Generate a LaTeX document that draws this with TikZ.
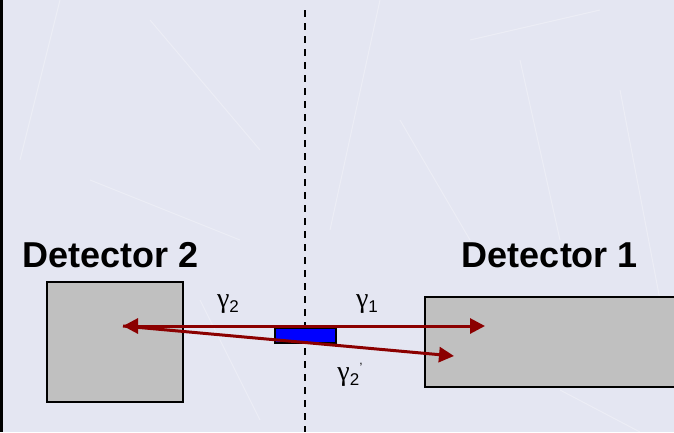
\documentclass[tikz,border=0pt]{standalone}
\usepackage{fontspec}
\setmainfont{Liberation Sans}
\newfontfamily\greekfont{Liberation Serif}
\usetikzlibrary{arrows.meta}
\definecolor{bgpaper}{HTML}{E4E6F2}
\definecolor{boxgray}{HTML}{C0C0C0}
\definecolor{rayred}{HTML}{8B0000}
\newcommand{\gam}{{\greekfont γ}}
\newcommand{\gsub}[1]{\raisebox{-5pt}{\fontsize{17}{20}\selectfont #1}}
\tikzset{
  detbox/.style={draw=black, line width=2pt, fill=boxgray},
  source/.style={draw=black, line width=1.5pt, fill=blue},
  ray/.style={draw=rayred, line width=3pt, -{Triangle[length=15pt,width=15pt]}},
  detlabel/.style={font=\fontsize{36}{40}\selectfont\bfseries, anchor=base},
  glabel/.style={font=\fontsize{28}{30}\selectfont, anchor=base, inner sep=0pt}
}
\begin{document}
\begin{tikzpicture}[x=1pt,y=-1pt]
  % page and backdrop
  \useasboundingbox (0,0) rectangle (674,432);
  \fill[bgpaper] (0,0) rectangle (674,432);
  \fill[black] (0,0) rectangle (2.5,432);
  % a few faint scratches in the paper
  \begin{scope}[white, opacity=0.3, line width=1pt]
    \draw (60,0) -- (20,160);
    \draw (150,20) -- (260,150);
    \draw (380,0) -- (330,230);
    \draw (470,40) -- (600,10);
    \draw (520,60) -- (560,240);
    \draw (620,90) -- (660,300);
    \draw (90,180) -- (240,240);
    \draw (400,120) -- (470,240);
    \draw (200,300) -- (260,420);
    \draw (560,390) -- (640,432);
  \end{scope}
  % symmetry axis
  \coordinate (axtop) at (305,10);
  \coordinate (axbot) at (305,432);
  \draw[line width=1.8pt, dash pattern=on 7pt off 6pt] (axtop) -- (axbot);
  % detectors
  \node[detbox, minimum width=136pt, minimum height=120pt, inner sep=0pt, anchor=north west] (det2) at (46,281) {};
  \node[detbox, minimum width=262pt, minimum height=90pt, inner sep=0pt, anchor=north west] (det1) at (424,296) {};
  \node[detlabel] (lab2) at (111,267) {Detector 2};
  \node[detlabel] (lab1) at (550,267) {Detector 1};
  % source between the detectors
  \node[source, minimum width=61pt, minimum height=15pt, inner sep=0pt, anchor=north west] (src) at (274,327) {};
  % gamma rays
  \coordinate (tipL) at (123,326);
  \coordinate (tipR) at (485,326);
  \coordinate (tipD) at (454,356);
  \coordinate (mid) at (305,326);
  \draw[ray] (mid) -- (tipR);
  \draw[ray] (mid) -- (tipL);
  \draw[ray] (tipL) -- (tipD);
  % labels
  \node[glabel] (g2) at (228,307) {\gam\gsub{2}};
  \node[glabel] (g1) at (367,307) {\gam\gsub{1}};
  \node[glabel] (g2p) at (350,380) {\gam\gsub{2}\raisebox{16pt}{\fontsize{12}{14}\selectfont ,}};
\end{tikzpicture}
\end{document}
